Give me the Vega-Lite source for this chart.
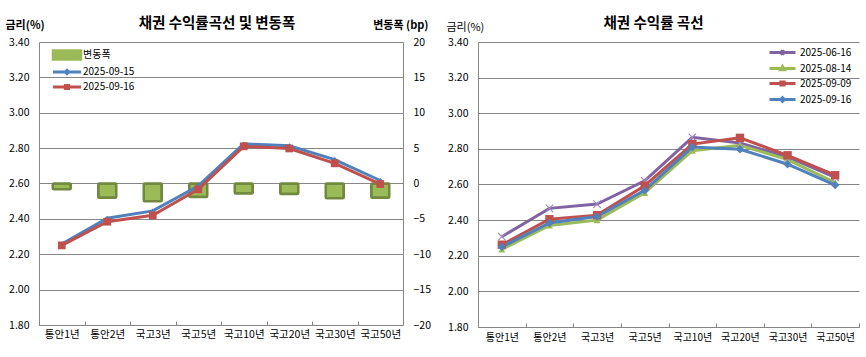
{
  "$schema": "https://vega.github.io/schema/vega-lite/v6.json",
  "padding": {"left": 5, "top": 15, "right": 5, "bottom": 5},
  "background": "white",
  "spacing": 15,
  "resolve": {
    "scale": {"color": "independent"},
    "legend": {"color": "independent"}
  },
  "config": {
    "font": "Noto Sans CJK KR",
    "view": {"stroke": null},
    "axis": {"labelColor": "#000000", "titleColor": "#000000", "labelFont": "Noto Sans CJK KR", "titleFont": "Noto Sans CJK KR"},
    "title": {"color": "#000000", "font": "Noto Sans CJK KR"},
    "legend": {"labelColor": "#000000", "labelFont": "Noto Sans CJK KR"}
  },
  "datasets": {
    "bars": [
      {"tenor": "통안1년", "series": "변동폭", "change": -0.8},
      {"tenor": "통안2년", "series": "변동폭", "change": -2.0},
      {"tenor": "국고3년", "series": "변동폭", "change": -2.5},
      {"tenor": "국고5년", "series": "변동폭", "change": -1.9},
      {"tenor": "국고10년", "series": "변동폭", "change": -1.4},
      {"tenor": "국고20년", "series": "변동폭", "change": -1.5},
      {"tenor": "국고30년", "series": "변동폭", "change": -2.1},
      {"tenor": "국고50년", "series": "변동폭", "change": -2.0}
    ],
    "lines": [
      {"tenor": "통안1년", "series": "2025-09-15", "value": 2.258},
      {"tenor": "통안2년", "series": "2025-09-15", "value": 2.404},
      {"tenor": "국고3년", "series": "2025-09-15", "value": 2.445},
      {"tenor": "국고5년", "series": "2025-09-15", "value": 2.586},
      {"tenor": "국고10년", "series": "2025-09-15", "value": 2.824},
      {"tenor": "국고20년", "series": "2025-09-15", "value": 2.813},
      {"tenor": "국고30년", "series": "2025-09-15", "value": 2.735},
      {"tenor": "국고50년", "series": "2025-09-15", "value": 2.617},
      {"tenor": "통안1년", "series": "2025-09-16", "value": 2.250},
      {"tenor": "통안2년", "series": "2025-09-16", "value": 2.384},
      {"tenor": "국고3년", "series": "2025-09-16", "value": 2.420},
      {"tenor": "국고5년", "series": "2025-09-16", "value": 2.567},
      {"tenor": "국고10년", "series": "2025-09-16", "value": 2.810},
      {"tenor": "국고20년", "series": "2025-09-16", "value": 2.798},
      {"tenor": "국고30년", "series": "2025-09-16", "value": 2.714},
      {"tenor": "국고50년", "series": "2025-09-16", "value": 2.597}
    ],
    "curves": [
      {"tenor": "통안1년", "series": "2025-06-16", "value": 2.307},
      {"tenor": "통안2년", "series": "2025-06-16", "value": 2.466},
      {"tenor": "국고3년", "series": "2025-06-16", "value": 2.490},
      {"tenor": "국고5년", "series": "2025-06-16", "value": 2.621},
      {"tenor": "국고10년", "series": "2025-06-16", "value": 2.865},
      {"tenor": "국고20년", "series": "2025-06-16", "value": 2.833},
      {"tenor": "국고30년", "series": "2025-06-16", "value": 2.755},
      {"tenor": "국고50년", "series": "2025-06-16", "value": 2.640},
      {"tenor": "통안1년", "series": "2025-08-14", "value": 2.235},
      {"tenor": "통안2년", "series": "2025-08-14", "value": 2.370},
      {"tenor": "국고3년", "series": "2025-08-14", "value": 2.400},
      {"tenor": "국고5년", "series": "2025-08-14", "value": 2.553},
      {"tenor": "국고10년", "series": "2025-08-14", "value": 2.790},
      {"tenor": "국고20년", "series": "2025-08-14", "value": 2.820},
      {"tenor": "국고30년", "series": "2025-08-14", "value": 2.740},
      {"tenor": "국고50년", "series": "2025-08-14", "value": 2.610},
      {"tenor": "통안1년", "series": "2025-09-09", "value": 2.262},
      {"tenor": "통안2년", "series": "2025-09-09", "value": 2.405},
      {"tenor": "국고3년", "series": "2025-09-09", "value": 2.428},
      {"tenor": "국고5년", "series": "2025-09-09", "value": 2.593},
      {"tenor": "국고10년", "series": "2025-09-09", "value": 2.827},
      {"tenor": "국고20년", "series": "2025-09-09", "value": 2.862},
      {"tenor": "국고30년", "series": "2025-09-09", "value": 2.764},
      {"tenor": "국고50년", "series": "2025-09-09", "value": 2.652},
      {"tenor": "통안1년", "series": "2025-09-16", "value": 2.250},
      {"tenor": "통안2년", "series": "2025-09-16", "value": 2.384},
      {"tenor": "국고3년", "series": "2025-09-16", "value": 2.420},
      {"tenor": "국고5년", "series": "2025-09-16", "value": 2.567},
      {"tenor": "국고10년", "series": "2025-09-16", "value": 2.810},
      {"tenor": "국고20년", "series": "2025-09-16", "value": 2.798},
      {"tenor": "국고30년", "series": "2025-09-16", "value": 2.714},
      {"tenor": "국고50년", "series": "2025-09-16", "value": 2.597}
    ]
  },
  "hconcat": [
    {
      "width": 364,
      "height": 283,
      "title": {"text": "채권 수익률곡선 및 변동폭", "fontSize": 14.5, "fontWeight": "bold", "dx": -4, "dy": 16, "anchor": "middle"},
      "encoding": {
        "x": {
          "field": "tenor", "type": "nominal",
          "sort": ["통안1년", "통안2년", "국고3년", "국고5년", "국고10년", "국고20년", "국고30년", "국고50년"],
          "scale": {"type": "band", "paddingInner": 0, "paddingOuter": 0},
          "axis": {"title": null, "labelAngle": 0, "labelFontSize": 10.5, "labelPadding": 8, "domainColor": "#868686", "tickColor": "#868686", "tickBand": "extent", "tickSize": -4, "grid": false}
        }
      },
      "layer": [
        {
          "data": {"name": "bars"},
          "mark": {"type": "bar", "size": 18, "fill": "#9BBB59", "stroke": "#71893F", "strokeWidth": 2.5, "cornerRadius": 1},
          "encoding": {
            "y": {
              "field": "change", "type": "quantitative",
              "scale": {"domain": [-20, 20]},
              "axis": {"orient": "right", "values": [-20, -15, -10, -5, 0, 5, 10, 15, 20], "format": "d", "grid": false, "ticks": false, "domainColor": "#868686", "labelPadding": 10, "labelFontSize": 10.5,
                "title": "변동폭 (bp)", "titleAngle": 0, "titleX": 25, "titleY": -17, "titleAlign": "right", "titleBaseline": "middle", "titleFontSize": 11, "titleFontWeight": "bold"}
            }
          }
        },
        {
          "data": {"name": "lines"},
          "encoding": {
            "y": {
              "field": "value", "type": "quantitative",
              "scale": {"domain": [1.8, 3.4]},
              "axis": {"orient": "left", "values": [1.8, 2.0, 2.2, 2.4, 2.6, 2.8, 3.0, 3.2, 3.4], "format": ".2f", "grid": true, "gridColor": "#868686", "gridOpacity": 1, "ticks": false, "domainColor": "#868686", "labelPadding": 10, "labelFontSize": 10.5,
                "title": "금리(%)", "titleAngle": 0, "titleX": -34, "titleY": -17, "titleAlign": "left", "titleBaseline": "middle", "titleFontSize": 11, "titleFontWeight": "bold"}
            }
          },
          "layer": [
            {
              "mark": {"type": "line", "strokeWidth": 3},
              "encoding": {
                "color": {
                  "field": "series", "type": "nominal",
                  "scale": {"domain": ["변동폭", "2025-09-15", "2025-09-16"], "range": ["#9BBB59", "#4F81BD", "#C0504D"]},
                  "legend": {
                    "title": null, "orient": "none", "legendX": 23, "legendY": 8, "padding": 0,
                    "symbolSize": 64, "labelFontSize": 10, "labelOffset": 11, "rowPadding": -1,
                    "encode": {
                      "symbols": {
                        "update": {
                          "shape": {"signal": "datum.value === '변동폭' ? 'M-3.5,-1.1H3.5V1.1H-3.5Z' : datum.value === '2025-09-15' ? 'M-3.5,0H3.5M0,-0.4L0.4,0L0,0.4L-0.4,0Z' : 'M-3.5,0H3.5M-0.4,-0.4H0.4V0.4H-0.4Z'"},
                          "fill": {"signal": "datum.value === '변동폭' ? '#9BBB59' : datum.value === '2025-09-15' ? '#4F81BD' : '#C0504D'"},
                          "stroke": {"signal": "datum.value === '변동폭' ? '#71893F' : datum.value === '2025-09-15' ? '#4F81BD' : '#C0504D'"},
                          "strokeWidth": {"signal": "datum.value === '변동폭' ? 2.5 : 3"},
                          "size": {"value": 64},
                          "opacity": {"value": 1}
                        }
                      }
                    }
                  }
                }
              }
            },
            {
              "transform": [{"filter": "datum.series === '2025-09-15'"}],
              "mark": {"type": "point", "filled": true, "opacity": 1, "shape": "diamond", "size": 25, "color": "#4F81BD"}
            },
            {
              "transform": [{"filter": "datum.series === '2025-09-16'"}],
              "mark": {"type": "point", "filled": true, "opacity": 1, "shape": "square", "size": 60, "color": "#C0504D"}
            }
          ]
        }
      ],
      "resolve": {"scale": {"y": "independent"}}
    },
    {
      "width": 381,
      "height": 285,
      "title": {"text": "채권 수익률 곡선", "fontSize": 14.5, "fontWeight": "bold", "dx": -15, "dy": 14, "anchor": "middle"},
      "data": {"name": "curves"},
      "encoding": {
        "x": {
          "field": "tenor", "type": "nominal",
          "sort": ["통안1년", "통안2년", "국고3년", "국고5년", "국고10년", "국고20년", "국고30년", "국고50년"],
          "scale": {"type": "band", "paddingInner": 0, "paddingOuter": 0},
          "axis": {"title": null, "labelAngle": 0, "labelFontSize": 10, "labelPadding": 9, "domainColor": "#868686", "tickColor": "#868686", "tickBand": "extent", "tickSize": -4, "grid": false}
        },
        "y": {
          "field": "value", "type": "quantitative",
          "scale": {"domain": [1.8, 3.4]},
          "axis": {"values": [1.8, 2.0, 2.2, 2.4, 2.6, 2.8, 3.0, 3.2, 3.4], "format": ".2f", "grid": true, "gridColor": "#868686", "gridOpacity": 1, "ticks": false, "domainColor": "#868686", "labelPadding": 10, "labelFontSize": 10.5,
            "title": "금리(%)", "titleAngle": 0, "titleX": -32, "titleY": -15, "titleAlign": "left", "titleBaseline": "middle", "titleFontSize": 11, "titleFontWeight": "normal"}
        }
      },
      "layer": [
        {
          "mark": {"type": "line", "strokeWidth": 3},
          "encoding": {
            "color": {
              "field": "series", "type": "nominal",
              "scale": {"domain": ["2025-06-16", "2025-08-14", "2025-09-09", "2025-09-16"], "range": ["#8064A2", "#9BBB59", "#C0504D", "#4F81BD"]},
              "legend": {
                "title": null, "orient": "none", "legendX": 299, "legendY": 5, "padding": 0,
                "symbolSize": 64, "labelFontSize": 10, "labelOffset": 12, "rowPadding": -1,
                "encode": {
                  "symbols": {
                    "update": {
                      "shape": {"signal": "datum.value === '2025-06-16' ? 'M-3.25,0H3.25M-0.5,-0.5L0.5,0.5M-0.5,0.5L0.5,-0.5' : datum.value === '2025-08-14' ? 'M-3.25,0H3.25M0,-0.5L0.45,0.3H-0.45Z' : datum.value === '2025-09-09' ? 'M-3.25,0H3.25M-0.4,-0.4H0.4V0.4H-0.4Z' : 'M-3.25,0H3.25M0,-0.45L0.45,0L0,0.45L-0.45,0Z'"},
                      "fill": {"signal": "datum.value === '2025-06-16' ? '#8064A2' : datum.value === '2025-08-14' ? '#9BBB59' : datum.value === '2025-09-09' ? '#C0504D' : '#4F81BD'"},
                      "stroke": {"signal": "datum.value === '2025-06-16' ? '#8064A2' : datum.value === '2025-08-14' ? '#9BBB59' : datum.value === '2025-09-09' ? '#C0504D' : '#4F81BD'"},
                      "strokeWidth": {"value": 3},
                      "size": {"value": 64},
                      "opacity": {"value": 1}
                    }
                  }
                }
              }
            }
          }
        },
        {
          "transform": [{"filter": "datum.series === '2025-06-16'"}],
          "mark": {"type": "point", "filled": false, "opacity": 1, "shape": "M-1,-1L1,1M-1,1L1,-1", "size": 55, "strokeWidth": 1.2, "stroke": "#A08CC0"}
        },
        {
          "transform": [{"filter": "datum.series === '2025-08-14'"}],
          "mark": {"type": "point", "filled": true, "opacity": 1, "shape": "triangle-up", "size": 50, "color": "#9BBB59"}
        },
        {
          "transform": [{"filter": "datum.series === '2025-09-09'"}],
          "mark": {"type": "point", "filled": true, "opacity": 1, "shape": "square", "size": 70, "color": "#C0504D"}
        },
        {
          "transform": [{"filter": "datum.series === '2025-09-16'"}],
          "mark": {"type": "point", "filled": true, "opacity": 1, "shape": "diamond", "size": 70, "color": "#4F81BD"}
        }
      ]
    }
  ]
}
